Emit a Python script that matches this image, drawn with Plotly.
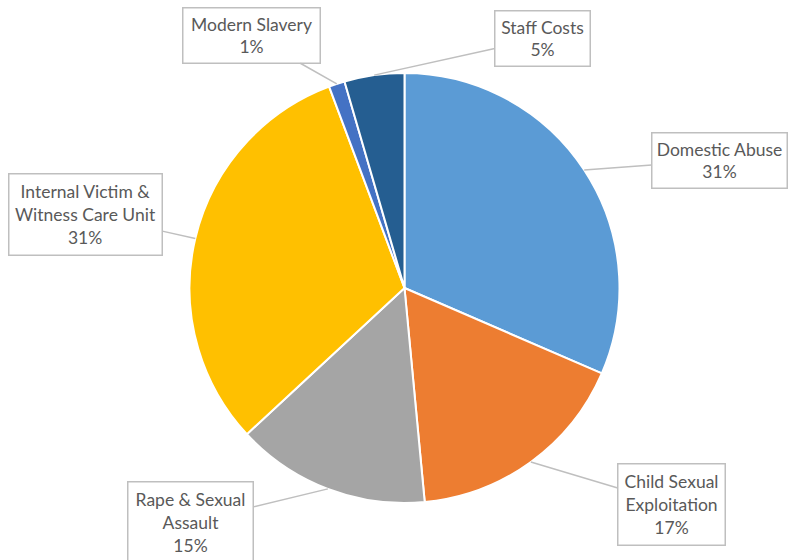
import math
import plotly.graph_objects as go

categories = ["Domestic Abuse", "Child Sexual Exploitation", "Rape & Sexual Assault",
              "Internal Victim & Witness Care Unit", "Modern Slavery", "Staff Costs"]
values = [31.5, 17.0, 14.6, 31.2, 1.2, 4.5]
label_texts = ["Domestic Abuse<br>31%", "Child Sexual<br>Exploitation<br>17%",
               "Rape & Sexual<br>Assault<br>15%", "Internal Victim &<br>Witness Care Unit<br>31%",
               "Modern Slavery<br>1%", "Staff Costs<br>5%"]
colors = ["#5B9BD5", "#ED7D31", "#A5A5A5", "#FFC000", "#4472C4", "#255E91"]

W, H = 789, 560
cx, cy, R = 404.5, 288, 215

# label box centers (pixel) and text-area sizes
box_pos = [(719.5, 160), (671.5, 504), (190.5, 522), (85.5, 214), (251.5, 35.5), (542.5, 38)]
box_size = [(128, 48), (100, 74), (118, 74), (146, 74), (130, 48), (88, 48)]

fig = go.Figure()
fig.add_trace(go.Pie(
    labels=categories, values=values, sort=False, direction="clockwise", rotation=0,
    marker=dict(colors=colors, line=dict(color="white", width=2)),
    textinfo="none", hoverinfo="label+percent", showlegend=False,
    domain=dict(x=[(cx - R) / W, (cx + R) / W], y=[(H - cy - R) / H, (H - cy + R) / H]),
))

# invisible pixel axes for annotations
fig.add_trace(go.Scatter(x=[0, W], y=[0, H], mode="markers", marker=dict(opacity=0),
                         hoverinfo="skip", showlegend=False))

total = sum(values)
cum = 0
for i, v in enumerate(values):
    mid = (cum + v / 2) / total * 2 * math.pi
    cum += v
    tx = cx + R * math.sin(mid)
    ty = cy - R * math.cos(mid)
    bx, by = box_pos[i]
    bw, bh = box_size[i]
    fig.add_annotation(
        x=tx, y=ty, ax=bx, ay=by, xref="x", yref="y", axref="x", ayref="y",
        text=label_texts[i], showarrow=True, arrowhead=0, arrowwidth=1.5,
        arrowcolor="#BFBFBF", width=bw, height=bh, align="center", valign="middle",
        bgcolor="white", bordercolor="#BFBFBF", borderwidth=1.5, borderpad=3,
        font=dict(family="Lato, Open Sans, sans-serif", size=17.5, color="#595959"),
    )

fig.update_layout(
    width=W, height=H, margin=dict(l=0, r=0, t=0, b=0),
    paper_bgcolor="white", plot_bgcolor="rgba(0,0,0,0)",
    xaxis=dict(range=[0, W], visible=False, fixedrange=True),
    yaxis=dict(range=[H, 0], visible=False, fixedrange=True),
)

fig.write_html("out.html", config={"displayModeBar": False},
               post_script="document.body.style.margin='0';document.body.style.overflow='hidden';")
